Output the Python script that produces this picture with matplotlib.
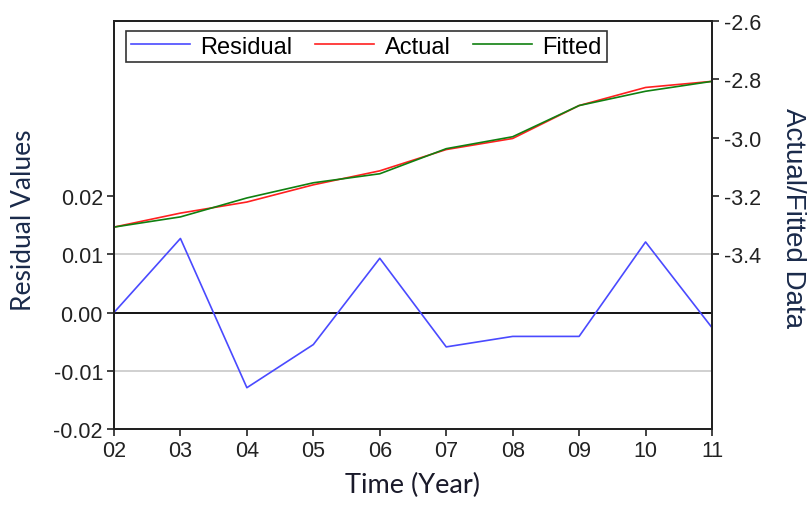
import matplotlib.pyplot as plt

# data
years = ['02', '03', '04', '05', '06', '07', '08', '09', '10', '11']
residual = [0.0000, 0.0127, -0.0129, -0.0055, 0.0093, -0.0059, -0.0041, -0.0041, 0.0121, -0.0026]
actual = [-3.307, -3.259, -3.221, -3.162, -3.114, -3.041, -3.003, -2.890, -2.828, -2.807]
fitted = [-3.307, -3.272, -3.207, -3.155, -3.124, -3.038, -2.997, -2.890, -2.841, -2.807]

plt.rcParams['font.family'] = ['Liberation Sans', 'DejaVu Sans']

fig = plt.figure(figsize=(8.09, 5.06), dpi=100)
ax = fig.add_axes([0.1409, 0.150, 0.7392, 0.8065])
ax2 = ax.twinx()

x = list(range(len(years)))

# residual on left axis
ax.axhline(0.01, color='#c8c8c8', lw=1.2, zorder=1)
ax.axhline(-0.01, color='#c8c8c8', lw=1.2, zorder=1)
ax.axhline(0.0, color='black', lw=1.3, zorder=2)
l1, = ax.plot(x, residual, color='#4a4aff', lw=1.2, label='Residual', zorder=3)
ax.set_ylim(-0.02, 0.05)
ax.set_yticks([-0.02, -0.01, 0.0, 0.01, 0.02])
ax.set_yticklabels(['-0.02', '-0.01', '0.00', '0.01', '0.02'])
ax.set_xlim(0, len(years) - 1)
ax.set_xticks(x)
ax.set_xticklabels(years)

# actual / fitted on right axis
l2, = ax2.plot(x, actual, color='#ff2020', lw=1.2, label='Actual')
l3, = ax2.plot(x, fitted, color='#108010', lw=1.2, label='Fitted')
ax2.set_ylim(-4.0, -2.6)
ax2.set_yticks([-3.4, -3.2, -3.0, -2.8, -2.6])
ax2.set_yticklabels(['-3.4', '-3.2', '-3.0', '-2.8', '-2.6'])

for a in (ax, ax2):
    for s in a.spines.values():
        s.set_linewidth(1.4)
        s.set_color('#222222')
    a.tick_params(direction='out', length=5, width=1.2, labelsize=15.5, colors='#222222')
ax.tick_params(axis='x', pad=3)
ax.tick_params(axis='y', pad=3)

ax.set_xlabel('Time (Year)', fontsize=19.5, family='Lato', color='#1a1a2a', labelpad=8)
ax.set_ylabel('Residual Values', fontsize=19, family='Lato', color='#1a2a4a')
ax.yaxis.set_label_coords(-0.131, 0.515)
ax2.set_ylabel('Actual/Fitted Data', fontsize=20, color='#1a2a4a', rotation=270)
ax2.yaxis.set_label_coords(1.157, 0.52)

leg = ax.legend(handles=[l1, l2, l3], loc='upper left', ncol=3, fontsize=17,
                frameon=True, fancybox=False, edgecolor='black', handlelength=2.5,
                handletextpad=0.45, columnspacing=0.95, borderpad=0.2,
                borderaxespad=0, bbox_to_anchor=(0.02, 0.976))
leg.get_frame().set_linewidth(1.2)
leg.set_zorder(5)

fig.savefig('out.png', dpi=100)
